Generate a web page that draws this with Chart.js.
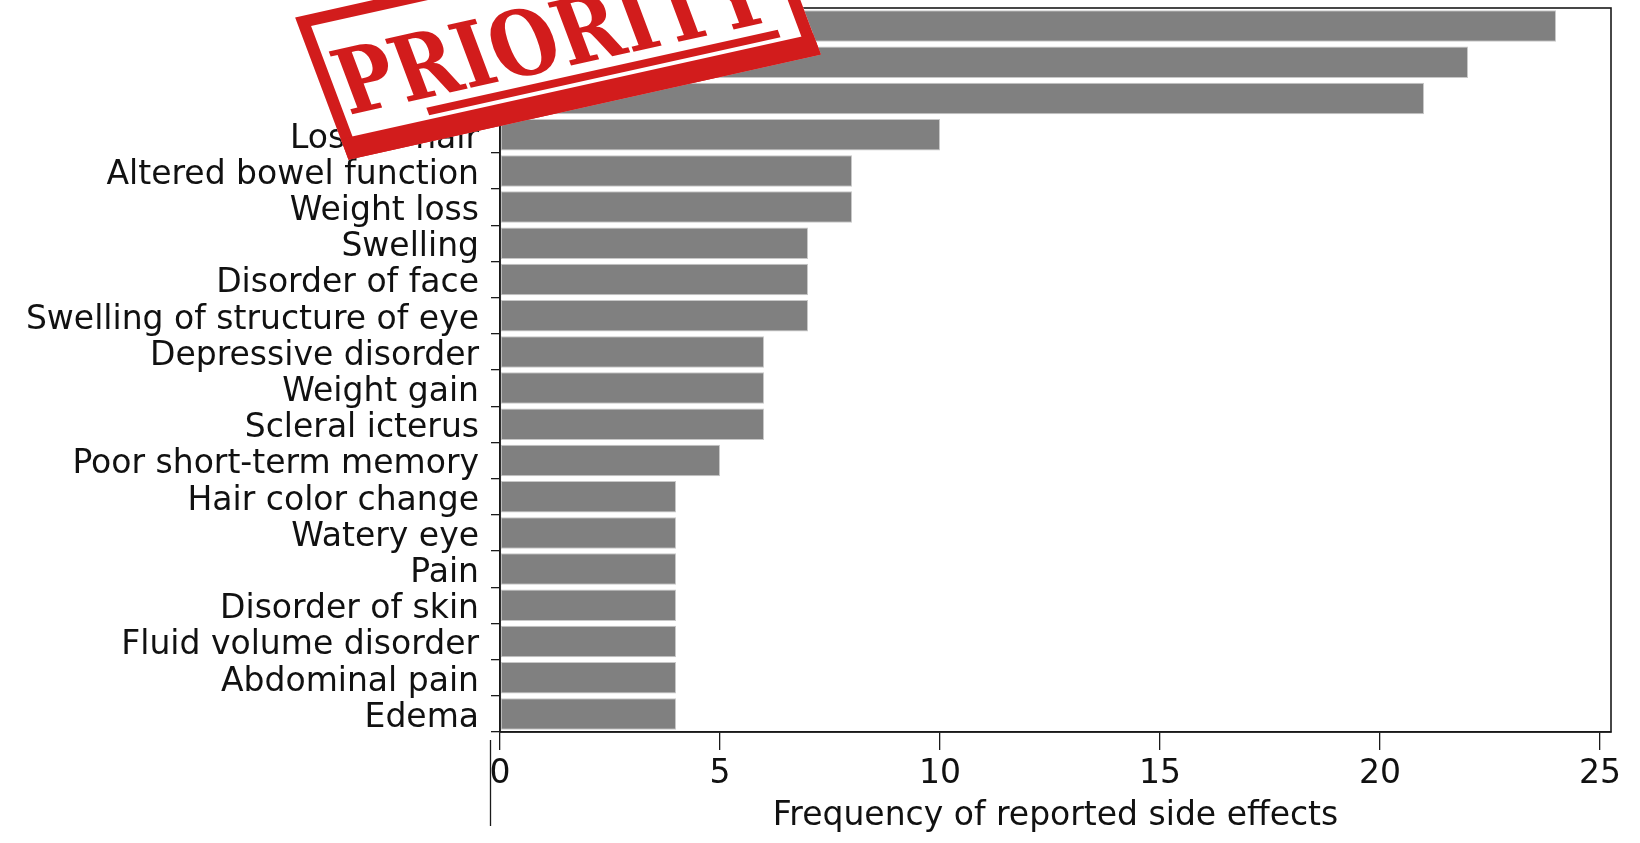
<!DOCTYPE html>
<html>
<head>
<meta charset="utf-8">
<script src="https://cdn.jsdelivr.net/npm/chart.js@4/dist/chart.umd.min.js"></script>
<style>
  html, body { margin: 0; padding: 0; background: #fff; }
  #wrap { width: 1640px; height: 843px; }
</style>
</head>
<body>
<div id="wrap"><canvas id="sideChart" width="1640" height="843"></canvas></div>
<script>
// Side effect categories (top three are hidden under the stamp in the source)
const categories = [
    '', '', '',
    'Loss of hair', 'Altered bowel function', 'Weight loss', 'Swelling',
    'Disorder of face', 'Swelling of structure of eye', 'Depressive disorder',
    'Weight gain', 'Scleral icterus', 'Poor short-term memory', 'Hair color change',
    'Watery eye', 'Pain', 'Disorder of skin', 'Fluid volume disorder',
    'Abdominal pain', 'Edema'
];
const frequencies = [24, 22, 21, 10, 8, 8, 7, 7, 7, 6, 6, 6, 5, 4, 4, 4, 4, 4, 4, 4];
const xTicks = [0, 5, 10, 15, 20, 25];
const xTitle = 'Frequency of reported side effects';
const stampText = 'PRIORITY';

const FONT = '"DejaVu Sans", sans-serif';
const RED = '#d21c1c';

// Box around the plot, stray axis stroke and the stamp
const overlay = {
    id: 'overlay',
    afterDraw(chart) {
        const ctx = chart.ctx;
        const a = chart.chartArea;
        ctx.save();
        ctx.strokeStyle = '#1a1a1a';
        ctx.lineWidth = 1.6;
        ctx.strokeRect(a.left, a.top, a.right - a.left, a.bottom - a.top);

        ctx.beginPath();
        ctx.moveTo(a.left - 9.5, 740);
        ctx.lineTo(a.left - 9.5, 826);
        ctx.lineWidth = 1.3;
        ctx.stroke();
        ctx.restore();

        // stamp: rotated and slightly sheared
        ctx.save();
        ctx.transform(0.976, -0.217, 0.351, 0.936, 558, 36);
        const w = 484, h = 152;
        ctx.fillStyle = '#ffffff';
        ctx.fillRect(-w / 2, -h / 2, w, h);
        ctx.strokeStyle = RED;
        ctx.lineWidth = 12;
        ctx.strokeRect(-w / 2 + 6, -h / 2 + 6, w - 12, h - 12);
        ctx.fillStyle = RED;
        ctx.fillRect(-w / 2, h / 2 - 22, w, 22);
        ctx.fillRect(-150, h / 2 - 34, 360, 8);
        ctx.font = 'bold 92px "DejaVu Serif", serif';
        ctx.textAlign = 'center';
        ctx.textBaseline = 'alphabetic';
        ctx.fillText(stampText, -8, 32, 436);
        ctx.restore();
    }
};

new Chart(document.getElementById('sideChart').getContext('2d'), {
    type: 'bar',
    data: {
        labels: categories,
        datasets: [{
            data: frequencies,
            backgroundColor: '#808080',
            borderColor: '#c8c8c8',
            borderWidth: 1,
            borderSkipped: false,
            barPercentage: 0.87,
            categoryPercentage: 1
        }]
    },
    options: {
        indexAxis: 'y',
        responsive: false,
        animation: false,
        events: [],
        layout: { padding: { top: 8, right: 29, left: 0, bottom: 0 } },
        plugins: { legend: { display: false }, tooltip: { enabled: false } },
        scales: {
            x: {
                min: 0,
                max: 25.25,
                afterBuildTicks: scale => { scale.ticks = xTicks.map(v => ({ value: v })); },
                afterFit: scale => { scale.height = 111; },
                grid: { drawOnChartArea: false, drawTicks: true, tickLength: 18, color: '#1a1a1a', lineWidth: 1.3 },
                border: { display: true, color: '#1a1a1a', width: 1.6 },
                ticks: { color: '#111', font: { family: FONT, size: 33 }, padding: 5, maxRotation: 0 },
                title: { display: true, text: xTitle, color: '#111', font: { family: FONT, size: 33 }, padding: { top: 0, bottom: 7 } }
            },
            y: {
                afterFit: scale => {
                    scale.width = 500;
                    scale.paddingTop = 0;
                    scale.paddingBottom = 0;
                },
                grid: { drawOnChartArea: false, drawTicks: true, tickLength: 9, color: '#1a1a1a', lineWidth: 1.3 },
                border: { display: true, color: '#1a1a1a', width: 1.6 },
                ticks: {
                    color: '#111',
                    font: { family: FONT, size: 33, lineHeight: 0.26 },
                    padding: 12,
                    autoSkip: false,
                    // empty first line nudges the label a few pixels down
                    callback: function (v) { return ['', this.getLabelForValue(v)]; }
                }
            }
        }
    },
    plugins: [overlay]
});
</script>
</body>
</html>
